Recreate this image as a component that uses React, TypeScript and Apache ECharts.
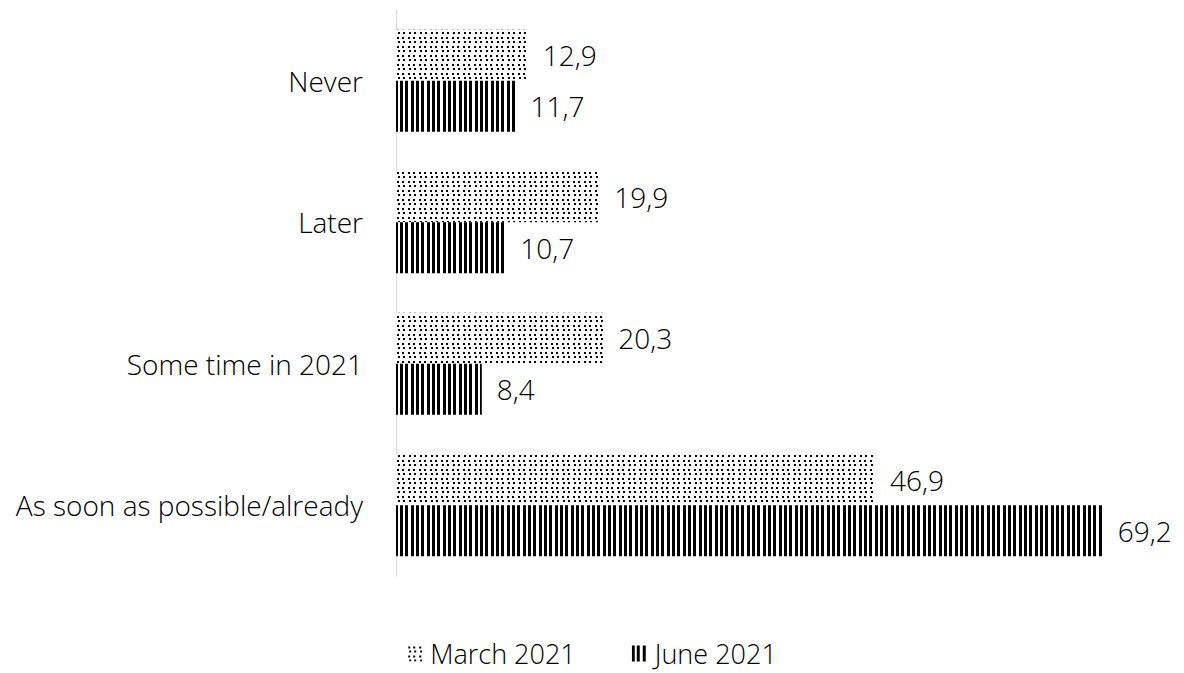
import React, { useEffect, useRef } from "react";
import * as echarts from "echarts";

const categories = ["Never", "Later", "Some time in 2021", "As soon as possible/already"];
const march2021 = [12.9, 19.9, 20.3, 46.9];
const june2021 = [11.7, 10.7, 8.4, 69.2];
const seriesNames = ["March 2021", "June 2021"];

function dotPattern() {
  const c = document.createElement("canvas");
  c.width = 11;
  c.height = 9;
  const ctx = c.getContext("2d")!;
  ctx.fillStyle = "#ffffff";
  ctx.fillRect(0, 0, 11, 9);
  ctx.fillStyle = "#000000";
  ctx.fillRect(1, 1, 2, 2);
  ctx.fillRect(6, 1, 2, 2);
  ctx.fillRect(2, 5, 2, 2);
  ctx.fillRect(7, 5, 2, 2);
  return c;
}

function stripePattern() {
  const c = document.createElement("canvas");
  c.width = 16;
  c.height = 4;
  const ctx = c.getContext("2d")!;
  ctx.fillStyle = "#ffffff";
  ctx.fillRect(0, 0, 16, 4);
  ctx.fillStyle = "#000000";
  ctx.fillRect(0, 0, 3, 4);
  ctx.fillRect(5, 0, 3, 4);
  ctx.fillRect(11, 0, 3, 4);
  return c;
}

export default function App() {
  const ref = useRef<HTMLDivElement>(null);
  useEffect(() => {
    if (!ref.current) return;
    const chart = echarts.init(ref.current, null, { renderer: "svg" });
    const font = "Open Sans";
    const fw = 300;
    const fs = 28;
    const fmt = (p: any) => String(p.value).replace(".", ",");
    chart.setOption({
      animation: false,
      textStyle: { fontFamily: font, fontWeight: fw },
      grid: { left: 396, right: 73, top: 10, bottom: 97, containLabel: false },
      xAxis: {
        type: "value",
        min: 0,
        max: 70,
        show: false,
      },
      yAxis: {
        type: "category",
        inverse: true,
        data: categories,
        axisLine: { show: true, lineStyle: { color: "#d9d9d9", width: 1 } },
        axisTick: { show: false },
        axisLabel: { fontFamily: font, fontWeight: fw, fontSize: fs, color: "#000", margin: 33 },
      },
      legend: {
        top: 640,
        left: "center",
        data: seriesNames,
        itemWidth: 15,
        itemHeight: 16,
        itemGap: 56,
        padding: 0,
        textStyle: { fontFamily: font, fontWeight: fw, fontSize: 27, lineHeight: 26, color: "#000", padding: [0, 0, 0, 3] },
        icon: "rect",
      },
      series: [
        {
          name: seriesNames[0],
          type: "bar",
          data: march2021,
          barGap: "0%",
          barCategoryGap: "28%",
          itemStyle: { color: { image: dotPattern(), repeat: "repeat" } as any },
          label: { show: true, position: "right", distance: 15, formatter: fmt, fontFamily: font, fontWeight: fw, fontSize: fs, color: "#000" },
        },
        {
          name: seriesNames[1],
          type: "bar",
          data: june2021,
          barGap: "0%",
          barCategoryGap: "28%",
          itemStyle: { color: { image: stripePattern(), repeat: "repeat" } as any },
          label: { show: true, position: "right", distance: 15, formatter: fmt, fontFamily: font, fontWeight: fw, fontSize: fs, color: "#000" },
        },
      ],
    });
    return () => chart.dispose();
  }, []);
  return (
    <div
      ref={ref}
      style={{ position: "absolute", left: 0, top: 0, width: 1184, height: 673, background: "#fff" }}
    />
  );
}
